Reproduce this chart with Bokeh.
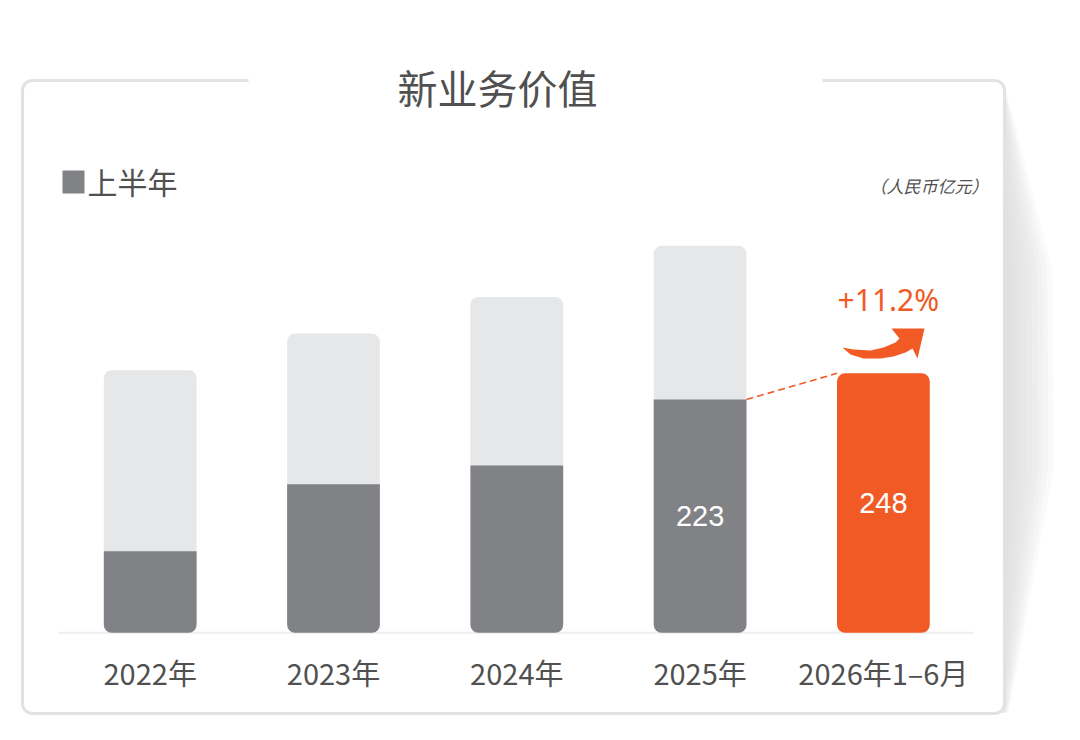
from bokeh.plotting import figure
from bokeh.models import Range1d, ColumnDataSource
from bokeh.core.properties import value
from bokeh.embed import file_html
from bokeh.resources import INLINE

# data (人民币亿元)
categories = ["2022年", "2023年", "2024年", "2025年", "2026年1–6月"]
full_year = [251, 286, 321, 370]          # 2022-2025 全年
first_half = [78, 142, 160, 223]          # 2022-2025 上半年
current = 248                             # 2026年1-6月
growth_label = "+11.2%"
title_text = "新业务价值"
legend_text = "上半年"
unit_text = "（人民币亿元）"

ORANGE = "#f15a24"
DARK = "#818286"
LIGHT = "#e6e7e8"
TEXT = "#505050"
CJK = "Noto Sans CJK SC"

W, H = 1064, 724
# pixel geometry of the plot area
PPX = 183.3            # px per category
X0 = 149.7             # x of first bar centre
BASE = 632.3           # y of zero
K = 1.0462             # px per unit
XS = -X0 / PPX
YS = -(H - BASE) / K


def X(px):
    return XS + px / PPX


def Y(py):
    return (BASE - py) / K


p = figure(width=W, height=H, output_backend="svg", toolbar_location=None,
           x_range=Range1d(XS, XS + W / PPX), y_range=Range1d(YS, YS + H / K),
           min_border=0, background_fill_color="white", border_fill_color="white")
p.axis.visible = False
p.grid.visible = False
p.outline_line_color = None

# page-curl shadow at the right of the card (stacked layers for a gradient)
outer = [(1004, 84), (1052, 270), (1053, 470), (1008, 712)]
for i in range(10):
    f = (i + 1) / 10
    xs = [X(1000)] + [X(1000 + (px - 1000) * f) for px, _ in outer] + [X(1000)]
    ys = [Y(84)] + [Y(py) for _, py in outer] + [Y(712)]
    p.patch(xs, ys, fill_color="#d2d3d6", fill_alpha=0.12, line_color=None)

# card
p.quad(left=X(22), right=X(1004), top=Y(80), bottom=Y(713),
       fill_color="white", line_color="#e2e2e3", line_width=3, border_radius=10)
p.quad(left=X(248), right=X(822), top=Y(70), bottom=Y(92),
       fill_color="white", line_color=None)

p.text(x=[X(497)], y=[Y(86)], text=[title_text], text_font=value(CJK),
       text_font_size="40px", text_color=TEXT, text_align="center",
       text_baseline="middle")

# legend and unit
p.quad(left=X(62), right=X(84), top=Y(170), bottom=Y(193),
       fill_color=DARK, line_color=None)
p.text(x=[X(87)], y=[Y(180)], text=[legend_text], text_font=value(CJK),
       text_font_size="30px", text_color=TEXT, text_align="left",
       text_baseline="middle")
p.text(x=[X(988)], y=[Y(185)], text=[unit_text], text_font=value(CJK),
       text_font_size="17px", text_font_style="italic", text_color=TEXT,
       text_align="right", text_baseline="middle")

# baseline
p.segment(x0=[X(58)], y0=[0], x1=[X(973)], y1=[0], line_color="#eeeeee",
          line_width=2)

bw = 0.506
idx = list(range(len(full_year)))
p.vbar(x=idx, top=full_year, bottom=0, width=bw, fill_color=LIGHT,
       line_color=None, border_radius=8)
p.vbar(x=idx, top=first_half, bottom=0, width=bw, fill_color=DARK,
       line_color=None, border_radius=(0, 0, 8, 8))
p.vbar(x=[len(full_year)], top=[current], bottom=0, width=bw,
       fill_color=ORANGE, line_color=None, border_radius=8)

# value labels
lab = ColumnDataSource(dict(x=[3, 4], y=[first_half[3] / 2, current / 2],
                            t=[str(first_half[3]), str(current)]))
p.text(x="x", y="y", text="t", source=lab, text_font=value("Liberation Sans"),
       text_font_size="29px", text_color="white", text_align="center",
       text_baseline="middle")

# category labels
p.text(x=list(range(len(categories))), y=[0] * len(categories), text=categories,
       y_offset=39, text_font=value(CJK), text_font_size="29px",
       text_color=TEXT, text_align="center", text_baseline="middle")

# growth: dashed connector, curved arrow, label
p.segment(x0=[3 + bw / 2], y0=[first_half[3]], x1=[4 - bw / 2], y1=[current],
          line_color=ORANGE, line_width=1.6, line_dash="7 4")
arrow = [(842, 347), (853, 349), (870, 350), (883, 347), (895, 342),
         (899, 338), (891, 328), (924, 328), (917, 358), (912, 348),
         (905, 352), (893, 356), (880, 358), (863, 358), (850, 354)]
p.patch([X(a) for a, _ in arrow], [Y(b) for _, b in arrow],
        fill_color=ORANGE, line_color=None)
p.text(x=[4], y=[current], text=[growth_label], x_offset=5, y_offset=-74,
       text_font=value("Noto Sans"), text_font_size="30px", text_color=ORANGE,
       text_align="center", text_baseline="middle")

open("out.html", "w").write(file_html(p, INLINE))
